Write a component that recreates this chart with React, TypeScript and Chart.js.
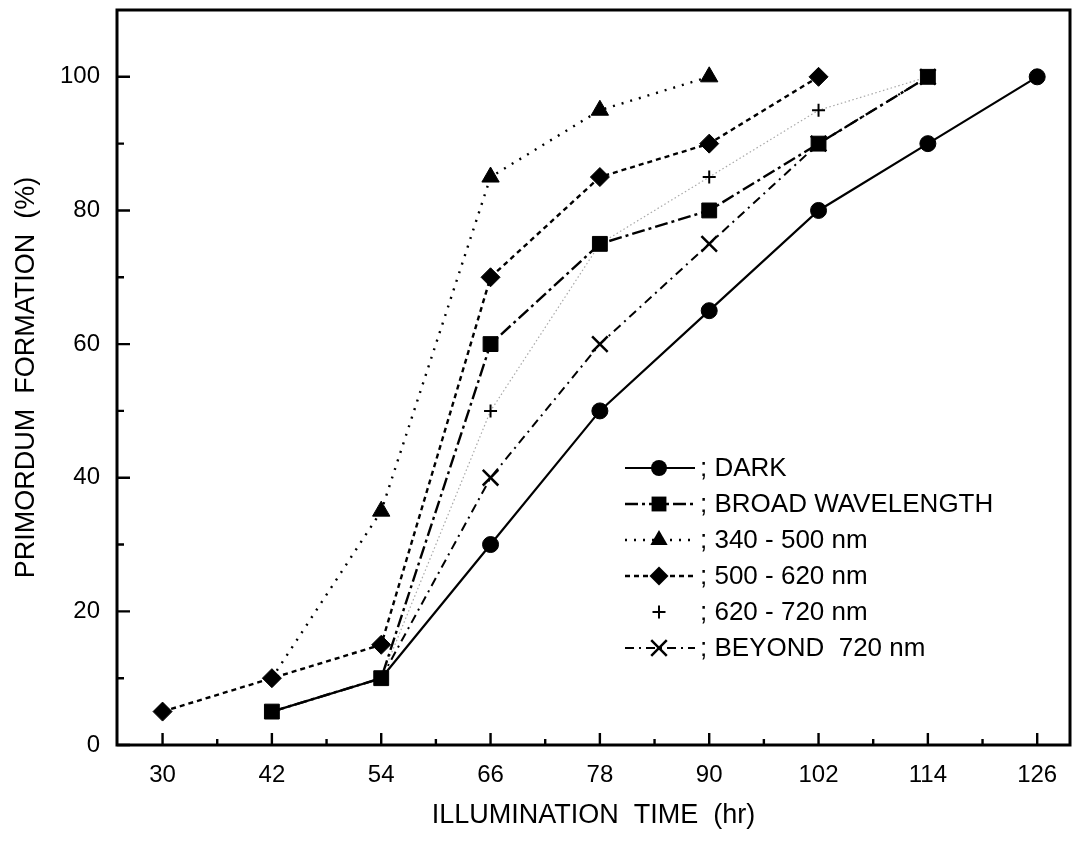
import React, { useEffect, useRef } from 'react';
import { Chart, registerables } from 'chart.js';

Chart.register(...registerables);

// ---------- data ----------
const HOURS = [30, 42, 54, 66, 78, 90, 102, 114, 126];
const DARK = [null, 5, 10, 30, 50, 65, 80, 90, 100];
const BROAD = [null, 5, 10, 60, 75, 80, 90, 100, null];
const NM_340_500 = [null, 10, 35, 85, 95, 100, null, null, null];
const NM_500_620 = [5, 10, 15, 70, 85, 90, 100, null, null];
const NM_620_720 = [null, null, 10, 50, 75, 85, 95, 100, null];
const BEYOND_720 = [null, null, 10, 40, 60, 75, 90, 100, null];

const SERIES_LABELS = ['DARK', 'BROAD WAVELENGTH', '340 - 500 nm', '500 - 620 nm', '620 - 720 nm', 'BEYOND  720 nm'];
const X_TICKS = [30, 42, 54, 66, 78, 90, 102, 114, 126];
const X_MINOR = [36, 48, 60, 72, 84, 96, 108, 120];
const Y_TICKS = [0, 20, 40, 60, 80, 100];
const Y_MINOR = [10, 30, 50, 70, 90];
const X_TITLE = 'ILLUMINATION  TIME  (hr)';
const Y_TITLE = 'PRIMORDUM  FORMATION  (%)';

const FONT = "'Liberation Sans', Arial, Helvetica, sans-serif";

type Style = {
  values: (number | null)[];
  pointStyle: string;
  radius: number;
  hideAt: number[];
  dash: number[];
  lineWidth: number;
  lineColor: string;
  pointBorderWidth: number;
};

const STYLES: Style[] = [
  { values: DARK, pointStyle: 'circle', radius: 8, hideAt: [42, 54], dash: [], lineWidth: 2.2, lineColor: '#000', pointBorderWidth: 1 },
  { values: BROAD, pointStyle: 'rect', radius: 10.5, hideAt: [], dash: [13, 4, 3, 4], lineWidth: 2.4, lineColor: '#000', pointBorderWidth: 1 },
  { values: NM_340_500, pointStyle: 'triangle', radius: 10, hideAt: [42], dash: [2, 7], lineWidth: 2.4, lineColor: '#000', pointBorderWidth: 1 },
  { values: NM_500_620, pointStyle: 'rectRot', radius: 9.5, hideAt: [], dash: [5, 4], lineWidth: 2.4, lineColor: '#000', pointBorderWidth: 1 },
  { values: NM_620_720, pointStyle: 'cross', radius: 6.5, hideAt: [54], dash: [1.5, 2.5], lineWidth: 1.2, lineColor: '#a8a8a8', pointBorderWidth: 2 },
  { values: BEYOND_720, pointStyle: 'crossRot', radius: 11, hideAt: [54], dash: [9, 5, 2, 5], lineWidth: 2, lineColor: '#000', pointBorderWidth: 2.5 },
];

function drawMarker(ctx: CanvasRenderingContext2D, style: string, x: number, y: number, r: number, bw: number) {
  ctx.save();
  ctx.fillStyle = '#000';
  ctx.strokeStyle = '#000';
  ctx.lineWidth = bw;
  ctx.setLineDash([]);
  ctx.beginPath();
  const s = Math.SQRT1_2 * r;
  switch (style) {
    case 'circle':
      ctx.arc(x, y, r, 0, Math.PI * 2);
      ctx.fill();
      break;
    case 'rect':
      ctx.rect(x - s, y - s, 2 * s, 2 * s);
      ctx.fill();
      break;
    case 'rectRot':
      ctx.moveTo(x, y - r);
      ctx.lineTo(x + r, y);
      ctx.lineTo(x, y + r);
      ctx.lineTo(x - r, y);
      ctx.closePath();
      ctx.fill();
      break;
    case 'triangle':
      ctx.moveTo(x, y - r);
      ctx.lineTo(x + Math.sin((2 * Math.PI) / 3) * r, y + 0.5 * r);
      ctx.lineTo(x - Math.sin((2 * Math.PI) / 3) * r, y + 0.5 * r);
      ctx.closePath();
      ctx.fill();
      break;
    case 'cross':
      ctx.moveTo(x - r, y);
      ctx.lineTo(x + r, y);
      ctx.moveTo(x, y - r);
      ctx.lineTo(x, y + r);
      ctx.stroke();
      break;
    case 'crossRot':
      ctx.moveTo(x - s, y - s);
      ctx.lineTo(x + s, y + s);
      ctx.moveTo(x - s, y + s);
      ctx.lineTo(x + s, y - s);
      ctx.stroke();
      break;
  }
  ctx.restore();
}

const framePlugin = {
  id: 'frameTicks',
  afterDatasetsDraw(chart: any) {
    const { ctx, chartArea } = chart;
    const { left, right, top, bottom } = chartArea;
    const xs = chart.scales.x;
    const ys = chart.scales.y;
    ctx.save();
    ctx.strokeStyle = '#000';
    ctx.setLineDash([]);
    ctx.lineWidth = 3;
    ctx.strokeRect(left, top, right - left, bottom - top);
    ctx.lineWidth = 2.4;
    ctx.beginPath();
    X_TICKS.forEach((v) => {
      const p = xs.getPixelForValue(v);
      ctx.moveTo(p, bottom);
      ctx.lineTo(p, bottom - 12);
    });
    X_MINOR.forEach((v) => {
      const p = xs.getPixelForValue(v);
      ctx.moveTo(p, bottom);
      ctx.lineTo(p, bottom - 6);
    });
    Y_TICKS.forEach((v) => {
      const p = ys.getPixelForValue(v);
      ctx.moveTo(left, p);
      ctx.lineTo(left + 13, p);
    });
    Y_MINOR.forEach((v) => {
      const p = ys.getPixelForValue(v);
      ctx.moveTo(left, p);
      ctx.lineTo(left + 7, p);
    });
    ctx.stroke();
    ctx.restore();
  },
};

const legendPlugin = {
  id: 'customLegend',
  afterDraw(chart: any) {
    const { ctx } = chart;
    const x0 = 625;
    const x1 = 695;
    const xm = 659;
    const y0 = 468;
    const step = 36;
    ctx.save();
    STYLES.forEach((st, i) => {
      const y = y0 + i * step;
      if (i !== 4) {
        ctx.beginPath();
        ctx.strokeStyle = st.lineColor;
        ctx.lineWidth = st.lineWidth;
        ctx.setLineDash(st.dash);
        ctx.moveTo(x0, y);
        ctx.lineTo(x1, y);
        ctx.stroke();
      }
      drawMarker(ctx, st.pointStyle, xm, y, st.radius, st.pointBorderWidth);
      ctx.setLineDash([]);
      ctx.fillStyle = '#000';
      ctx.font = `26px ${FONT}`;
      ctx.textBaseline = 'middle';
      ctx.textAlign = 'left';
      ctx.fillText('; ' + SERIES_LABELS[i], 700, y + 1);
    });
    ctx.restore();
  },
};

const zeroPad = (s: any) => {
  s.paddingTop = 0;
  s.paddingBottom = 0;
  s.paddingLeft = 0;
  s.paddingRight = 0;
};

export default function App() {
  const canvasRef = useRef<HTMLCanvasElement | null>(null);

  useEffect(() => {
    if (!canvasRef.current) return;
    const datasets = STYLES.map((st, i) => {
      const pts = HOURS.map((h, k) => ({ x: h, y: st.values[k] })).filter((p) => p.y !== null);
      return {
        label: SERIES_LABELS[i],
        data: pts,
        borderColor: st.lineColor,
        borderWidth: st.lineWidth,
        borderDash: st.dash,
        showLine: true,
        fill: false,
        tension: 0,
        pointStyle: st.pointStyle,
        pointRadius: pts.map((p) => (st.hideAt.includes(p.x) ? 0 : st.radius)),
        pointBackgroundColor: '#000',
        pointBorderColor: '#000',
        pointBorderWidth: st.pointBorderWidth,
        clip: false,
      };
    });

    const chart = new Chart(canvasRef.current, {
      type: 'line',
      data: { datasets: datasets as any },
      options: {
        animation: false,
        responsive: true,
        maintainAspectRatio: false,
        layout: { autoPadding: false, padding: { left: 0, right: 2, top: 10, bottom: 0 } },
        plugins: { legend: { display: false }, tooltip: { enabled: false } },
        scales: {
          x: {
            type: 'linear',
            min: 25,
            max: 129.6,
            afterBuildTicks: (s: any) => {
              s.ticks = X_TICKS.map((v) => ({ value: v }));
            },
            afterFit: (s: any) => {
              s.height = 96;
              zeroPad(s);
            },
            grid: { display: false, drawTicks: false },
            border: { display: false },
            ticks: {
              autoSkip: false,
              maxRotation: 0,
              padding: 16,
              color: '#000',
              font: { family: FONT, size: 24 },
              callback: (v: any) => String(v),
            },
            title: {
              display: true,
              text: X_TITLE,
              color: '#000',
              font: { family: FONT, size: 27 },
              padding: { top: 0, bottom: 9 },
            },
          },
          y: {
            type: 'linear',
            min: 0,
            max: 110,
            afterBuildTicks: (s: any) => {
              s.ticks = Y_TICKS.map((v) => ({ value: v }));
            },
            afterFit: (s: any) => {
              s.width = 117;
              zeroPad(s);
            },
            grid: { display: false, drawTicks: false },
            border: { display: false },
            ticks: {
              padding: 17,
              color: '#000',
              font: { family: FONT, size: 24 },
              callback: (v: any) => String(v),
            },
            title: {
              display: true,
              text: Y_TITLE,
              color: '#000',
              font: { family: FONT, size: 27 },
              padding: { top: 10, bottom: 0 },
            },
          },
        },
      },
      plugins: [framePlugin, legendPlugin],
    });
    return () => chart.destroy();
  }, []);

  return (
    <div style={{ position: 'fixed', left: 0, top: 0, width: 1072, height: 841, background: '#fff' }}>
      <canvas ref={canvasRef} />
    </div>
  );
}
